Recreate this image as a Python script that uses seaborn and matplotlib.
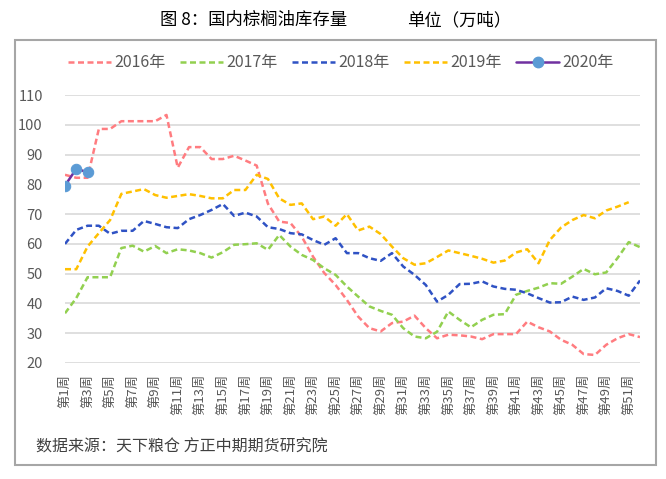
import numpy as np
import pandas as pd
import matplotlib
matplotlib.use("Agg")
import matplotlib.pyplot as plt
import seaborn as sns
from matplotlib.patches import Rectangle
from matplotlib.lines import Line2D

weeks = list(range(1, 53))
tick_weeks = list(range(1, 52, 2))
tick_labels = [f"第{w}周" for w in tick_weeks]

y2016 = [83.2, 82.2, 82.2, 98.6, 98.6, 101.2, 101.2, 101.2, 101.2, 103.3,
         85.6, 92.5, 92.5, 88.5, 88.5, 89.6, 88.0, 86.3, 73.5, 67.5,
         67.0, 62.4, 55.7, 50.2, 46.2, 41.2, 35.6, 31.7, 30.6, 33.4,
         33.9, 35.9, 31.7, 28.3, 29.5, 29.3, 28.9, 28.0, 29.7, 29.7,
         29.7, 33.9, 32.0, 30.6, 27.8, 26.1, 23.0, 22.7, 26.1, 28.3,
         29.7, 28.7]
y2017 = [36.7, 41.8, 48.8, 48.8, 48.8, 58.6, 59.4, 57.4, 59.3, 56.9,
         58.2, 57.8, 56.9, 55.4, 57.2, 59.7, 59.9, 60.2, 58.0, 63.0,
         59.1, 56.3, 54.6, 51.8, 49.6, 45.7, 42.3, 39.0, 37.5, 36.2,
         31.7, 28.9, 28.3, 30.5, 37.3, 34.5, 32.0, 34.5, 36.2, 36.4,
         42.9, 44.2, 45.3, 46.8, 46.6, 49.0, 51.6, 49.8, 50.4, 55.2,
         60.6, 58.9]
y2018 = [60.0, 64.7, 66.1, 66.1, 63.4, 64.4, 64.4, 67.7, 66.7, 65.6,
         65.3, 68.3, 69.7, 71.4, 73.4, 69.4, 70.5, 69.2, 65.6, 65.0,
         63.6, 63.2, 61.3, 59.7, 61.9, 56.9, 56.9, 55.2, 54.3, 56.9,
         52.4, 49.6, 46.2, 40.6, 42.9, 46.5, 46.6, 47.4, 45.7, 44.9,
         44.6, 43.4, 41.8, 40.3, 40.4, 42.3, 41.2, 42.0, 45.1, 44.2,
         42.6, 47.7]
y2019 = [51.5, 51.5, 59.1, 63.6, 68.0, 76.8, 77.6, 78.4, 76.4, 75.5,
         76.1, 76.7, 76.1, 75.3, 75.3, 78.1, 78.1, 83.2, 81.8, 75.3,
         73.1, 73.6, 68.3, 69.2, 66.1, 70.0, 64.5, 65.8, 63.3, 59.1,
         55.2, 53.0, 53.5, 55.6, 57.8, 56.9, 56.0, 55.0, 53.7, 54.4,
         57.1, 58.2, 53.5, 61.3, 65.5, 68.0, 69.7, 68.6, 71.2, 72.5,
         74.0, np.nan]
y2020 = [79.6, 85.2, 84.1] + [np.nan] * 49

series_names = ["2016年", "2017年", "2018年", "2019年", "2020年"]
series_vals = [y2016, y2017, y2018, y2019, y2020]
colors = ["#FF7C80", "#92D050", "#2F52C4", "#FFC000", "#7030A0"]
marker_color = "#5B9BD5"

df = pd.concat([pd.DataFrame({"week": weeks, "value": v, "year": n})
                for n, v in zip(series_names, series_vals)], ignore_index=True)

sns.set_theme(style="white")
plt.rcParams["font.family"] = ["Noto Sans CJK SC", "DejaVu Sans"]

fig = plt.figure(figsize=(6.66, 4.79), dpi=100)
ax = fig.add_axes([65/666, 1-363/479, (640-65)/666, (363-95)/479])

handles = []
for name, col in zip(series_names[:4], colors[:4]):
    sub = df[df["year"] == name].dropna()
    sns.lineplot(data=sub, x="week", y="value", ax=ax, color=col, linewidth=1.8,
                 legend=False)
    ax.lines[-1].set_dashes((2.4, 1.4))
    handles.append(Line2D([], [], color=col, lw=1.8, dashes=(2.4, 1.4)))
sub = df[df["year"] == "2020年"].dropna()
sns.lineplot(data=sub, x="week", y="value", ax=ax, color=colors[4], linewidth=1.8,
             marker="o", markersize=7.5, markerfacecolor=marker_color,
             markeredgecolor=marker_color, legend=False)
handles.append(Line2D([], [], color=colors[4], lw=1.8, marker="o", markersize=7.5,
                      markerfacecolor=marker_color, markeredgecolor=marker_color))

ax.set_xlim(1, 52)
ax.set_ylim(20, 110)
ax.set_yticks(range(20, 111, 10))
ax.set_xticks(tick_weeks)
ax.set_xticklabels(tick_labels, rotation=90, va="top", ha="center")
ax.tick_params(axis="x", labelsize=9.5, colors="#595959", length=0, pad=8)
ax.tick_params(axis="y", labelsize=10.5, colors="#595959", length=0, pad=16)
ax.set_xlabel("")
ax.set_ylabel("")
ax.grid(axis="y", color="#d9d9d9", linewidth=1.2)
ax.grid(axis="x", visible=False)
for s in ax.spines.values():
    s.set_visible(False)

fig.legend(handles, series_names, loc="center", bbox_to_anchor=(341/666, 1-63/479),
           ncol=5, frameon=False, fontsize=11.5, handlelength=2.7, handletextpad=0.2,
           columnspacing=0.9, labelcolor="#595959")

fig.patches.append(Rectangle((15/666, 1-465/479), (656-15)/666, (465-40)/479,
                             transform=fig.transFigure, fill=False,
                             edgecolor="#a6a6a6", linewidth=1.5))

fig.text(160/666, 1-20/479, "图 8：国内棕榈油库存量",
         ha="left", va="center", fontsize=12.5, color="#000000")
fig.text(407/666, 1-20/479, "单位（万吨）",
         ha="left", va="center", fontsize=12.5, color="#000000")
fig.text(36/666, 1-447/479, "数据来源：天下粮仓 方正中期期货研究院",
         ha="left", va="center", fontsize=11.5, color="#404040")

fig.savefig("out.png", dpi=100)
